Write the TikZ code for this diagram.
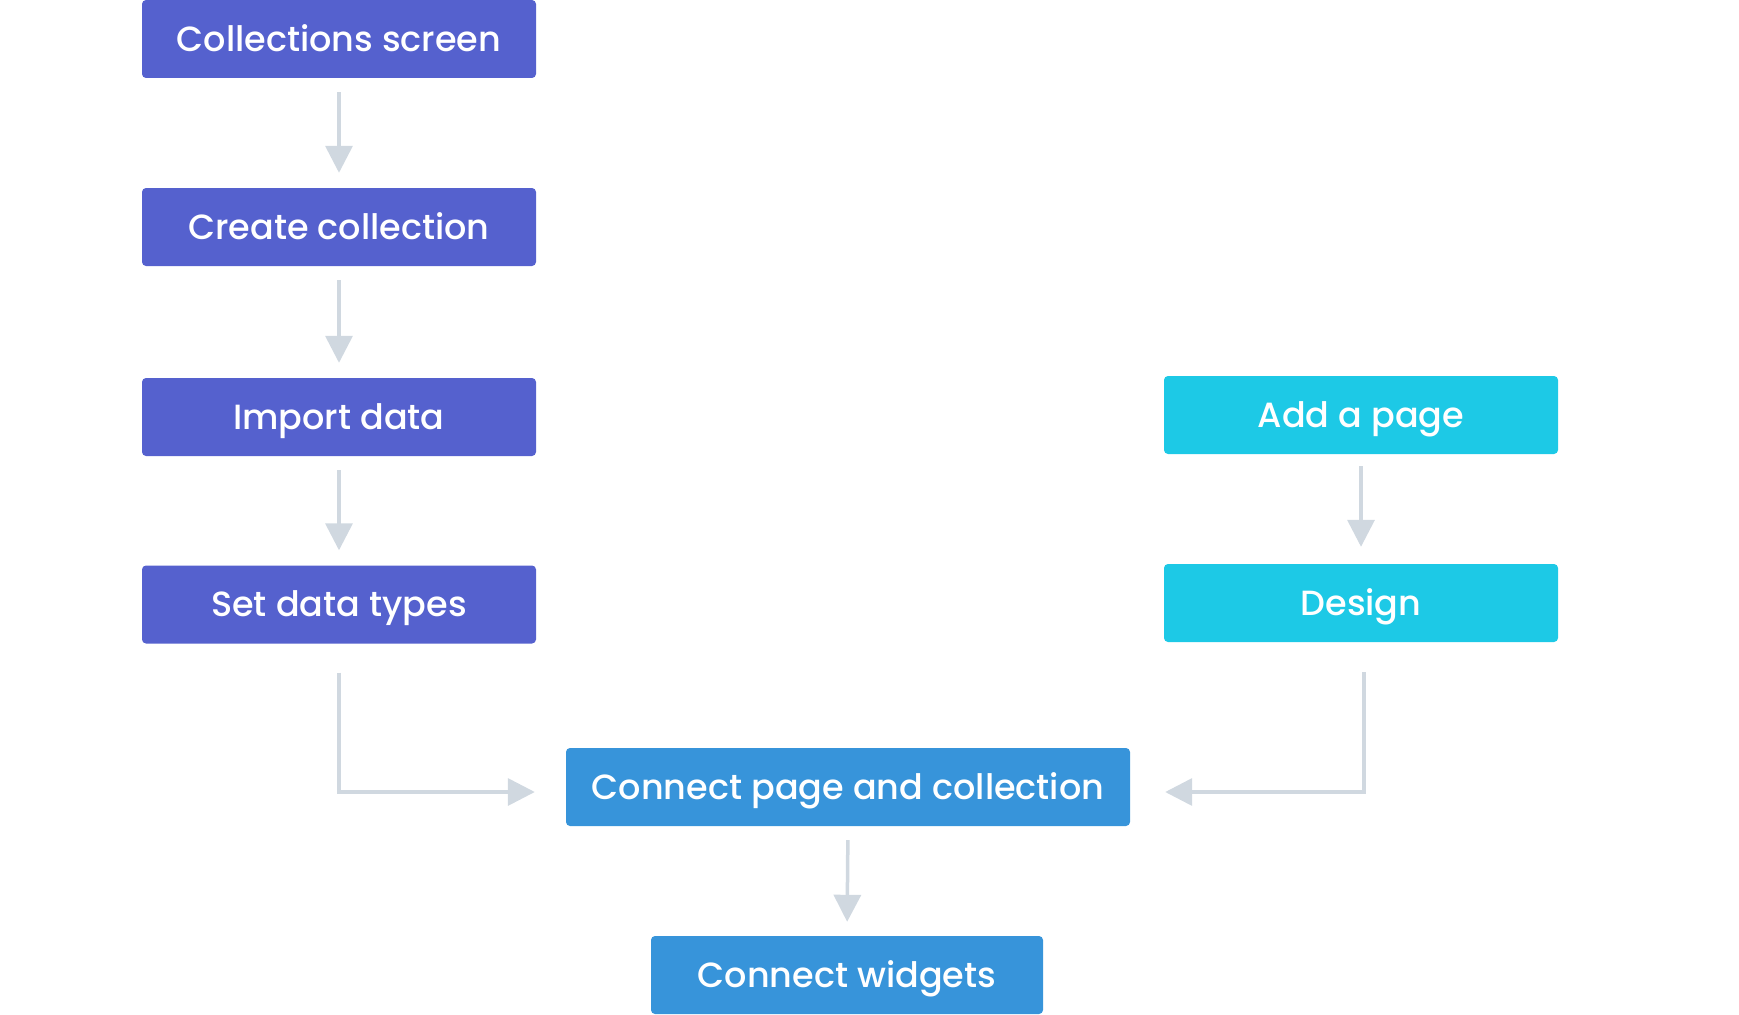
\documentclass[tikz,border=0pt]{standalone}
\usepackage{fontspec}
\setmainfont{Poppins}[UprightFont=* Medium]
\usetikzlibrary{arrows.meta}
\definecolor{cpurple}{HTML}{5561CE}
\definecolor{ccyan}{HTML}{1DC9E6}
\definecolor{cblue}{HTML}{3794DA}
\definecolor{cline}{HTML}{D0D8E0}
\tikzset{
  box/.style={rounded corners=4pt, inner sep=0pt, text=white, font=\fontsize{35}{40}\selectfont, minimum height=78pt, text height=24.5pt, text depth=0pt},
  pbox/.style={box, fill=cpurple, minimum width=394pt},
  cbox/.style={box, fill=ccyan, minimum width=394pt},
  bbox/.style={box, fill=cblue},
  conn/.style={draw=cline, line width=3.5pt, -{Triangle[width=27pt,length=27pt]}},
}
\begin{document}
\begin{tikzpicture}[x=1pt,y=-1pt]
\useasboundingbox (0,0) rectangle (1739,1014);
\node[pbox] (cs) at (339,39) {Collections screen};
\node[pbox] (cc) at (339,227) {Create collection};
\node[pbox] (id) at (339,417) {Import data};
\node[pbox] (sd) at (339,604.5) {Set data types};
\node[cbox] (ap) at (1361,415) {Add a page};
\node[cbox] (de) at (1361,603) {Design};
\node[bbox, minimum width=564pt] (cp) at (848,787) {Connect page and collection};
\node[bbox, minimum width=392pt] (cw) at (847,975) {Connect widgets};
\draw[conn, shorten <=14pt, shorten >=15pt] (cs.south) -- (cc.north);
\draw[conn, shorten <=14pt, shorten >=15pt] (cc.south) -- (id.north);
\draw[conn, shorten <=14pt, shorten >=15pt] (id.south) -- (sd.north);
\draw[conn, shorten <=12pt, shorten >=17pt] (ap.south) -- (de.north);
\draw[conn, shorten <=14pt, shorten >=14pt] (cp.south) -- (cw.north);
\draw[conn] ([yshift=-29pt]sd.south) |- ([xshift=-31pt,yshift=-5pt]cp.west);
\draw[conn] ([xshift=3pt,yshift=-30pt]de.south) |- ([xshift=35pt,yshift=-5pt]cp.east);
\end{tikzpicture}
\end{document}
